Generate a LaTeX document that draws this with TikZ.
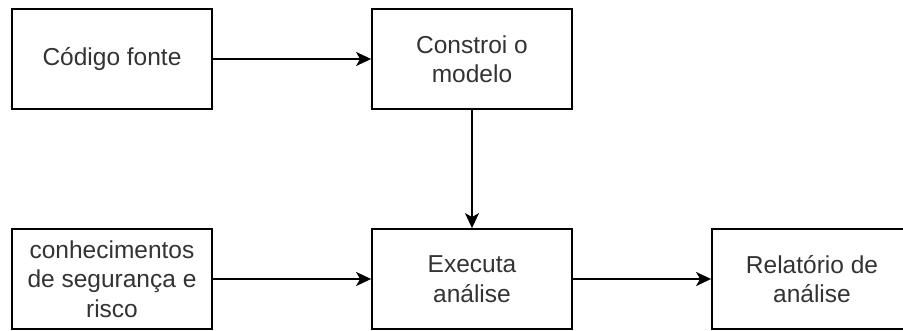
\documentclass[tikz,border=0pt]{standalone}
\usepackage{fontspec}
\setmainfont{Liberation Sans}
\usetikzlibrary{arrows.meta}
\begin{document}
\begin{tikzpicture}[x=1pt, y=-1pt,
  box/.style={draw=black, line width=1.8pt, fill=white, minimum width=200pt, minimum height=100pt,
    inner sep=0pt, align=center, text=black!80,
    font=\fontsize{24.5}{29.5}\selectfont},
  flow/.style={draw=black, line width=1.8pt, -{Stealth[length=15pt, width=14pt, inset=4pt]}}]
  \useasboundingbox (0,0) rectangle (903,331);
  \node[box] (src)  at (112,59)  {Código fonte};
  \node[box] (model) at (472,59) {Constroi o\\modelo};
  \node[box] (know) at (112,279) {conhecimentos\\de segurança e\\risco};
  \node[box] (run)  at (472,279) {Executa\\análise};
  \node[box] (rep)  at (812,279) {Relatório de\\análise};
  \draw[flow] (src) -- (model);
  \draw[flow] (model) -- (run);
  \draw[flow] (know) -- (run);
  \draw[flow] (run) -- (rep);
\end{tikzpicture}
\end{document}
